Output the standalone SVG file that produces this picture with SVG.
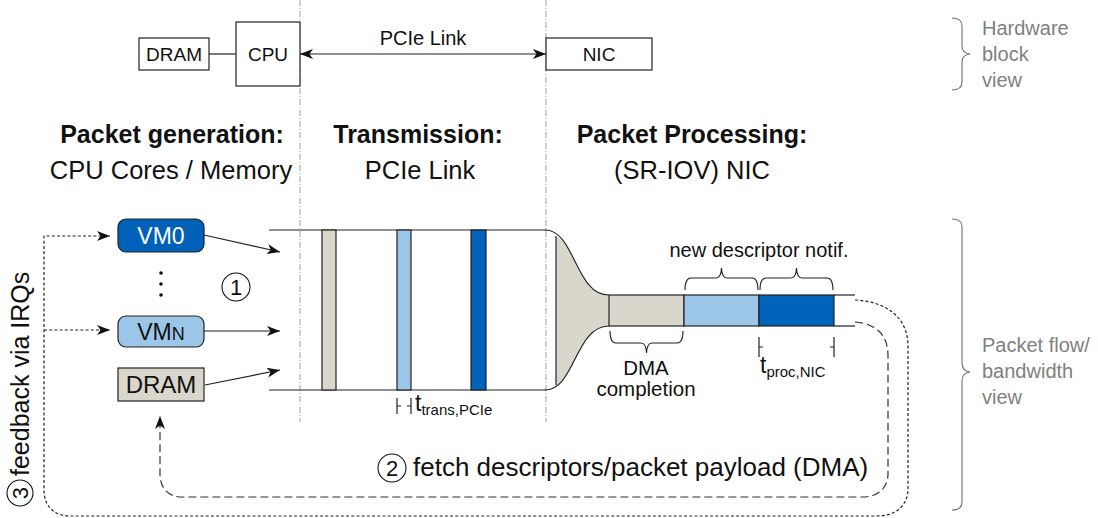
<svg xmlns="http://www.w3.org/2000/svg" width="1098" height="518" viewBox="0 0 1098 518">
  <defs>
    <marker id="arr" markerUnits="userSpaceOnUse" markerWidth="16" markerHeight="12" refX="13" refY="5" orient="auto">
      <path d="M0,0 L13,5 L0,10 L3.5,5 Z" fill="#111" stroke="none"/>
    </marker>
    <marker id="arrS" markerUnits="userSpaceOnUse" markerWidth="16" markerHeight="12" refX="0" refY="5" orient="auto">
      <path d="M13,0 L0,5 L13,10 L9.5,5 Z" fill="#111" stroke="none"/>
    </marker>
    <style>
      text { font-family: "Liberation Sans", Arial, sans-serif; fill: #111; }
      .box { fill: #fff; stroke: #222; stroke-width: 1.2; }
      .gray { fill: #d9d7cb; stroke: #222; stroke-width: 1.2; }
      .lblue { fill: #9cc6e8; stroke: #222; stroke-width: 1.2; }
      .dblue { fill: #0063bc; stroke: #222; stroke-width: 1.2; }
      .line { fill: none; stroke: #222; stroke-width: 1.2; }
      .sep { fill: none; stroke: #a0a0a0; stroke-width: 1; stroke-dasharray: 6 2 1 2; }
      .brace { fill: none; stroke: #222; stroke-width: 1.1; }
      .sbrace { fill: none; stroke: #707070; stroke-width: 1.1; }
      .side { fill: #808080; font-size: 20px; }
      .head { font-size: 25px; font-weight: bold; text-anchor: middle; }
      .sub { font-size: 25.5px; text-anchor: middle; }
      .dots { fill: none; stroke: #222; stroke-width: 1.2; stroke-dasharray: 3 2.2; }
      .dash { fill: none; stroke: #333; stroke-width: 1.2; stroke-dasharray: 8 4; }
      .circ { fill: none; stroke: #111; stroke-width: 1.1; }
    </style>
  </defs>

  <!-- section separators -->
  <g id="separators">
    <line class="sep" x1="300" y1="0" x2="300" y2="422"/>
    <line class="sep" x1="546" y1="0" x2="546" y2="422"/>
  </g>

  <!-- hardware block view -->
  <g id="hw-dram">
    <rect class="box" x="139" y="38" width="70" height="32"/>
    <text x="174" y="61" font-size="19" text-anchor="middle">DRAM</text>
  </g>
  <g id="hw-cpu">
    <rect class="box" x="236" y="22" width="64" height="64"/>
    <text x="268" y="61" font-size="19" text-anchor="middle">CPU</text>
  </g>
  <g id="hw-nic">
    <rect class="box" x="546" y="38" width="106" height="32"/>
    <text x="599" y="61" font-size="19" text-anchor="middle">NIC</text>
  </g>
  <g id="hw-links">
    <line class="line" x1="209" y1="54" x2="236" y2="54"/>
    <line class="line" x1="300" y1="54" x2="546" y2="54" marker-start="url(#arrS)" marker-end="url(#arr)"/>
    <text x="423" y="45" font-size="20" text-anchor="middle">PCIe Link</text>
  </g>

  <!-- stage headings -->
  <g id="headings">
    <text class="head" x="172" y="143">Packet generation:</text>
    <text class="sub" x="171" y="179">CPU Cores / Memory</text>
    <text class="head" x="418" y="143">Transmission:</text>
    <text class="sub" x="420" y="179">PCIe Link</text>
    <text class="head" x="692" y="143">Packet Processing:</text>
    <text class="sub" x="692" y="179">(SR-IOV) NIC</text>
  </g>

  <!-- packet sources -->
  <g id="vm0">
    <rect x="118" y="219" width="86" height="33" rx="8" fill="#0061b8" stroke="#222" stroke-width="1.2"/>
    <text x="161" y="244" font-size="23" text-anchor="middle" style="fill:#fff">VM0</text>
  </g>
  <g id="vm-dots">
    <circle cx="161" cy="273" r="1.8" fill="#111"/>
    <circle cx="161" cy="284" r="1.8" fill="#111"/>
    <circle cx="161" cy="295" r="1.8" fill="#111"/>
  </g>
  <g id="vmn">
    <rect x="118" y="316" width="86" height="31" rx="8" fill="#9cc6e8" stroke="#222" stroke-width="1.2"/>
    <text x="161" y="340" font-size="23" text-anchor="middle">VM<tspan font-size="18">N</tspan></text>
  </g>
  <g id="dram">
    <rect class="gray" x="118" y="368" width="86" height="33"/>
    <text x="161" y="393" font-size="24" text-anchor="middle">DRAM</text>
  </g>
  <g id="step1">
    <circle class="circ" cx="236" cy="287" r="14"/>
    <text x="236" y="295" font-size="22" text-anchor="middle">1</text>
  </g>

  <!-- PCIe transmission tube -->
  <g id="pcie-tube">
    <line class="line" x1="269" y1="230" x2="546" y2="230"/>
    <line class="line" x1="269" y1="390" x2="546" y2="390"/>
    <rect class="gray" x="322" y="230" width="14" height="160"/>
    <rect class="lblue" x="397" y="230" width="14" height="160"/>
    <rect class="dblue" x="471" y="230" width="15" height="160"/>
    <path class="line" d="M397,398 V414 M397,406 H401 M407,406 H411 M411,398 V414"/>
    <text x="415" y="411" font-size="23">t<tspan font-size="15" dy="4">trans,PCIe</tspan></text>
  </g>

  <!-- NIC funnel and processing pipe -->
  <g id="nic-pipe">
    <path d="M556,236 C575,246 578,295 609,295 L609,326 C578,326 575,376 556,385 Z" fill="#d9d7cb" stroke="none"/>
    <path class="line" d="M545,230 C575,230 575,295 609,295 M545,390 C575,390 575,326 609,326 M556,236 V385"/>
    <rect class="gray" x="609" y="295" width="75" height="31"/>
    <rect class="lblue" x="684" y="295" width="75" height="31"/>
    <rect class="dblue" x="759" y="295" width="75" height="31"/>
    <line class="line" x1="834" y1="295" x2="855" y2="295"/>
    <line class="line" x1="834" y1="326" x2="855" y2="326"/>
    <path class="brace" d="M685,290 Q685,278 691,278 L716,278 Q721,278 721.5,268 Q722,278 727,278 L752,278 Q758,278 758,290"/>
    <path class="brace" d="M760,290 Q760,278 766,278 L791,278 Q796,278 796.5,268 Q797,278 802,278 L827,278 Q833,278 833,290"/>
    <text x="759" y="257" font-size="20" text-anchor="middle">new descriptor notif.</text>
    <path class="brace" d="M610,331 Q610,343 616,343 L641,343 Q646,343 646.5,353 Q647,343 652,343 L677,343 Q683,343 683,331"/>
    <text x="646" y="375" font-size="20.5" text-anchor="middle">DMA</text>
    <text x="646" y="396" font-size="20.5" text-anchor="middle">completion</text>
    <path class="line" d="M759,337 V357 M759,347 H763 M830,347 H834 M834,337 V357"/>
    <text x="760" y="373" font-size="23">t<tspan font-size="15" dy="4">proc,NIC</tspan></text>
  </g>

  <!-- connectors -->
  <g id="connectors">
    <line class="line" x1="204" y1="235" x2="280" y2="252" marker-end="url(#arr)"/>
    <line class="line" x1="204" y1="331" x2="280" y2="331" marker-end="url(#arr)"/>
    <line class="line" x1="205" y1="385" x2="280" y2="370" marker-end="url(#arr)"/>
    <!-- DMA fetch loop -->
    <path class="dash" d="M855,322 C878,324 888,336 888,356 L888,474 C888,488 878,497 862,497 L182,497 C168,497 160,488 160,474 L160,416" marker-end="url(#arr)"/>
    <!-- IRQ feedback loop -->
    <path class="dots" d="M855,300 C890,302 908,320 908,346 L908,488 C908,506 896,516 876,516 L70,516 C54,516 44,506 44,490 L44,236 L110,236" marker-end="url(#arr)"/>
    <path class="dots" d="M44,330 L110,330" marker-end="url(#arr)"/>
  </g>

  <g id="step2">
    <circle class="circ" cx="392" cy="468" r="14"/>
    <text x="392" y="476" font-size="22" text-anchor="middle">2</text>
    <text x="413" y="476" font-size="26">fetch descriptors/packet payload (DMA)</text>
  </g>

  <g id="step3" transform="translate(29,0)">
    <g transform="rotate(-90)">
      <circle class="circ" cx="-493" cy="-9" r="13"/>
      <text x="-493" y="-1" font-size="22" text-anchor="middle">3</text>
      <text x="-476" y="0" font-size="25">feedback via IRQs</text>
    </g>
  </g>

  <!-- view annotations -->
  <g id="view-hw">
    <path class="sbrace" d="M952,18 Q962,18 962,26 L962,46 Q962,53 970,54 Q962,55 962,62 L962,82 Q962,90 952,90"/>
    <text class="side" x="982" y="35">Hardware</text>
    <text class="side" x="982" y="61">block</text>
    <text class="side" x="982" y="87">view</text>
  </g>
  <g id="view-flow">
    <path class="sbrace" d="M952,219 Q962,219 962,227 L962,363 Q962,371 970,372 Q962,373 962,381 L962,502 Q962,510 952,510"/>
    <text class="side" x="982" y="352">Packet flow/</text>
    <text class="side" x="982" y="378">bandwidth</text>
    <text class="side" x="982" y="404">view</text>
  </g>
</svg>
